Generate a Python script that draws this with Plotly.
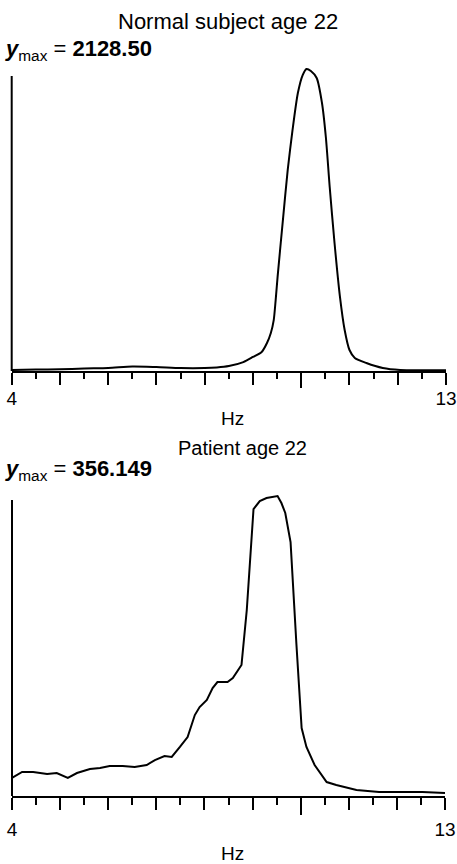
import plotly.graph_objects as go

# ---- data ----
freq_normal = [4.0, 4.5, 5.0, 5.5, 6.0, 6.5, 7.0, 7.5, 8.0, 8.25, 8.5, 8.8, 9.0, 9.18,
               9.29, 9.37, 9.43, 9.47, 9.51, 9.62, 9.72, 9.82, 9.93, 10.03, 10.11, 10.20,
               10.32, 10.43, 10.51, 10.59, 10.69, 10.80, 10.90, 11.00, 11.11, 11.35,
               11.69, 12.05, 12.5, 13.0]
power_normal = [7, 10, 12, 18, 21, 32, 28, 21, 21, 25, 35, 63, 99, 134,
                197, 268, 359, 500, 663, 1064, 1417, 1699, 1959, 2086, 2128.5, 2114,
                2065, 1889, 1649, 1297, 902, 530, 289, 148, 92, 56,
                21, 7, 5, 5]

freq_patient = [4.0, 4.21, 4.44, 4.73, 4.93, 5.16, 5.35, 5.62, 5.83, 6.03, 6.30, 6.55,
                6.80, 6.97, 7.17, 7.32, 7.49, 7.65, 7.80, 7.90, 8.05, 8.17, 8.27, 8.48,
                8.59, 8.77, 8.88, 8.94, 9.02, 9.15, 9.29, 9.52, 9.60, 9.68, 9.79, 9.91,
                10.02, 10.12, 10.29, 10.54, 10.74, 11.16, 11.63, 12.53, 13.0]
power_patient = [21.4, 28.5, 28.5, 26.1, 27.3, 21.4, 27.3, 32.0, 33.2, 35.6, 35.6, 34.4,
                 36.8, 42.7, 47.5, 46.3, 58.2, 70.0, 96.1, 105.6, 114.0, 128.2, 135.3, 135.3,
                 140.1, 155.5, 220.8, 271.8, 340.7, 350.2, 353.7, 356.149, 347.8, 336.0, 301.5, 181.6,
                 80.7, 58.2, 36.8, 16.6, 13.1, 7.1, 4.7, 4.7, 3.6]

titles = ["Normal subject age 22", "Patient age 22"]
ymax_labels = ["2128.50", "356.149"]
x_min, x_max = 4, 13
major_ticks = list(range(4, 14))
major_text = ["4" if v == 4 else ("13" if v == 13 else "") for v in major_ticks]
x_label = "Hz"

W, H = 457, 864
FONT = "Liberation Sans, Arial, sans-serif"

def py(p):  # pixel row -> paper y
    return 1 - p / H

def px(p):
    return p / W

fig = go.Figure()

# panel geometry (pixels)
panels = [
    dict(x0=11.7, x1=446, base=371, peak=69, top=64, axtop=76,
         ymax=max(power_normal), title_xy=(228, 22), title_size=22, ym_xy=(3, 50),
         hz_xy=(232, 418), standoff=-3, short=6, long=12, longest=16),
    dict(x0=12, x1=445, base=796, peak=496, top=490, axtop=500,
         ymax=max(power_patient), title_xy=(242, 448), title_size=20, ym_xy=(3, 470),
         hz_xy=(232, 853), standoff=3, short=7, long=12, longest=18),
]
series = [(freq_normal, power_normal, "spline"), (freq_patient, power_patient, "linear")]

shapes = []
annotations = []
for i, (p, (fx, fy, shape)) in enumerate(zip(panels, series)):
    n = i + 1
    xa = "x" if n == 1 else f"x{n}"
    ya = "y" if n == 1 else f"y{n}"
    scale = p["ymax"] / (p["base"] - p["peak"])
    yr_top = (p["base"] - p["top"]) * scale
    fig.add_trace(go.Scatter(x=fx, y=fy, mode="lines", xaxis=xa, yaxis=ya,
                             line=dict(color="black", width=2, shape=shape, smoothing=0.7),
                             showlegend=False, hoverinfo="skip"))
    dom_x = [px(p["x0"]), px(p["x1"])]
    dom_y = [py(p["base"]), py(p["top"])]
    fig.layout[f"xaxis{'' if n == 1 else n}"] = dict(
        domain=dom_x, range=[x_min, x_max], anchor=ya, automargin=False,
        showline=True, linecolor="black", linewidth=2, showgrid=False, zeroline=False,
        tickmode="array", tickvals=major_ticks, ticktext=major_text,
        ticks="outside", ticklen=p["long"], tickwidth=2, tickcolor="black",
        ticklabelstandoff=p["standoff"],
        tickfont=dict(family=FONT, size=19, color="black"),
        minor=dict(ticks="outside", ticklen=p["short"], tickwidth=2, tickcolor="black",
                   tick0=4, dtick=0.5, showgrid=False),
        fixedrange=True)
    fig.layout[f"yaxis{'' if n == 1 else n}"] = dict(
        domain=dom_y, range=[0, yr_top], anchor=xa, visible=False, automargin=False,
        fixedrange=True)
    # overlay axis carrying the long 10 Hz tick
    m = n + 2
    fig.layout[f"xaxis{m}"] = dict(
        domain=dom_x, range=[x_min, x_max], anchor=ya, overlaying=xa, side="bottom",
        automargin=False,
        showline=False, showgrid=False, zeroline=False, tickmode="array", tickvals=[10],
        ticks="outside", ticklen=p["longest"], tickwidth=2, tickcolor="black",
        showticklabels=False, fixedrange=True)
    fig.add_trace(go.Scatter(x=[None], y=[None], xaxis=f"x{m}", yaxis=ya, showlegend=False))
    # y-axis line
    shapes.append(dict(type="line", xref="paper", yref=ya, x0=dom_x[0], x1=dom_x[0],
                       y0=0, y1=(p["base"] - p["axtop"]) * scale,
                       line=dict(color="black", width=2)))
    annotations.append(dict(text=titles[i], xref="paper", yref="paper",
                            x=px(p["title_xy"][0]), y=py(p["title_xy"][1]),
                            xanchor="center", yanchor="middle", showarrow=False,
                            font=dict(family=FONT, size=p["title_size"], color="black")))
    annotations.append(dict(text=f"<b><i>y</i></b><sub>max</sub> = <b>{ymax_labels[i]}</b>",
                            xref="paper", yref="paper",
                            x=px(p["ym_xy"][0]), y=py(p["ym_xy"][1]),
                            xanchor="left", yanchor="middle", showarrow=False,
                            font=dict(family=FONT, size=22, color="black")))
    annotations.append(dict(text=x_label, xref="paper", yref="paper",
                            x=px(p["hz_xy"][0]), y=py(p["hz_xy"][1]),
                            xanchor="center", yanchor="middle", showarrow=False,
                            font=dict(family=FONT, size=19, color="black")))

fig.update_layout(width=W, height=H, margin=dict(l=0, r=0, t=0, b=0),
                  paper_bgcolor="white", plot_bgcolor="white",
                  shapes=shapes, annotations=annotations, showlegend=False)

fig.write_html("out.html", config={"displayModeBar": False})
